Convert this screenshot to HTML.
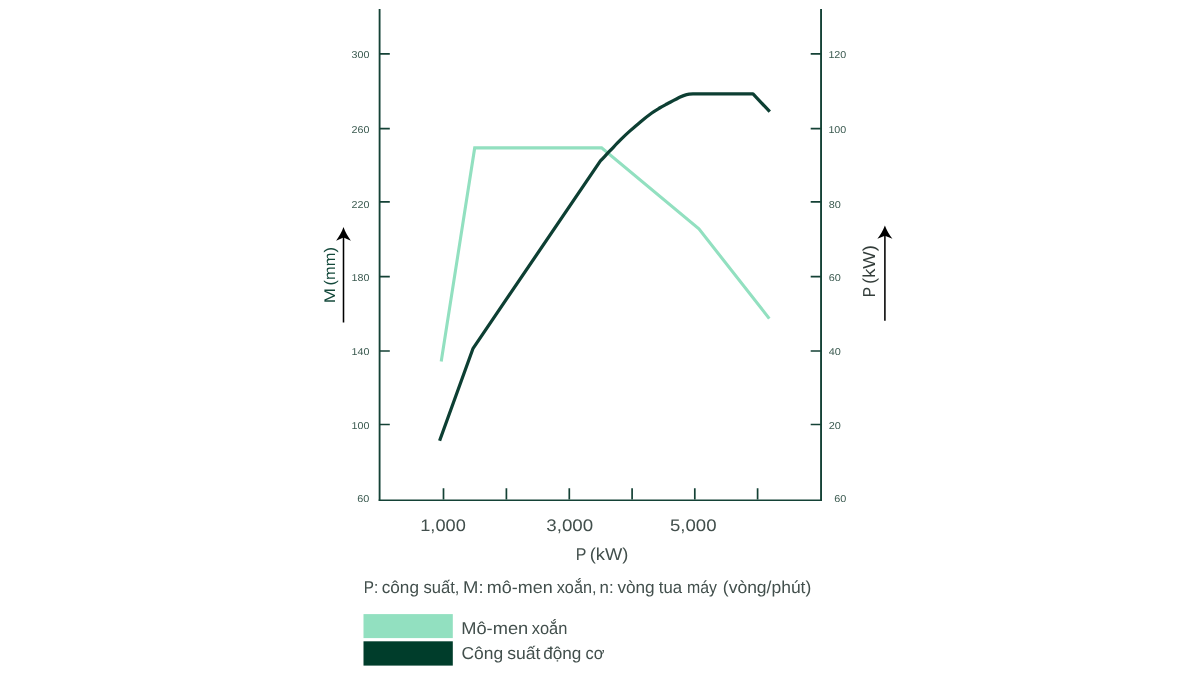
<!DOCTYPE html>
<html lang="vi">
<head>
<meta charset="utf-8">
<title>Mô-men xoắn / Công suất động cơ</title>
<style>
  html, body { margin: 0; padding: 0; background: #ffffff; }
  body { width: 1200px; height: 675px; overflow: hidden; position: relative; }
  svg { position: absolute; left: 0; top: 0; display: block; }
  text { font-family: "Liberation Sans", sans-serif; text-rendering: geometricPrecision; }
  .tick { font-size: 10px; fill: #3b5a50; }
  .xl { font-size: 16.7px; fill: #424f4c; }
  .cap { font-size: 17px; fill: #424f4c; }
</style>
</head>
<body>
<svg width="1200" height="675" viewBox="0 0 1200 675">
  <rect x="0" y="0" width="1200" height="675" fill="#ffffff"/>

  <!-- axes -->
  <g stroke="#144236" fill="none" stroke-linecap="butt">
    <path d="M379.6 9 V500.85" stroke-width="1.85"/>
    <path d="M821.05 9 V500.85" stroke-width="1.9"/>
    <path d="M378.68 500.15 H822" stroke-width="1.45"/>
  </g>
  <!-- ticks -->
  <g stroke="#144236" stroke-width="1.7" fill="none">
    <path d="M379.6 53.9 H389.8 M379.6 128.7 H389.8 M379.6 201.9 H389.8 M379.6 276.7 H389.8 M379.6 351.0 H389.8 M379.6 424.5 H389.8"/>
    <path d="M821.05 53.9 H810.7 M821.05 128.7 H810.7 M821.05 201.9 H810.7 M821.05 276.7 H810.7 M821.05 351.0 H810.7 M821.05 424.5 H810.7"/>
    <path d="M443.5 499.5 V488.2 M506.4 499.5 V488.2 M569.3 499.5 V488.2 M632.1 499.5 V488.2 M694.8 499.5 V488.2 M757.6 499.5 V488.2"/>
  </g>

  <!-- left tick labels -->
  <g class="tick" text-anchor="end">
    <text x="369.4" y="58.0" textLength="17.9" lengthAdjust="spacingAndGlyphs">300</text>
    <text x="369.4" y="132.7" textLength="17.9" lengthAdjust="spacingAndGlyphs">260</text>
    <text x="369.4" y="207.7" textLength="17.9" lengthAdjust="spacingAndGlyphs">220</text>
    <text x="369.4" y="280.9" textLength="17.9" lengthAdjust="spacingAndGlyphs">180</text>
    <text x="369.4" y="354.7" textLength="17.9" lengthAdjust="spacingAndGlyphs">140</text>
    <text x="369.4" y="429.3" textLength="17.9" lengthAdjust="spacingAndGlyphs">100</text>
    <text x="369.4" y="502.0" textLength="12.1" lengthAdjust="spacingAndGlyphs">60</text>
  </g>
  <!-- right tick labels -->
  <g class="tick" text-anchor="start">
    <text x="828.4" y="58.0" textLength="17.9" lengthAdjust="spacingAndGlyphs">120</text>
    <text x="828.4" y="132.7" textLength="17.9" lengthAdjust="spacingAndGlyphs">100</text>
    <text x="828.8" y="207.7" textLength="12.1" lengthAdjust="spacingAndGlyphs">80</text>
    <text x="828.8" y="280.9" textLength="12.1" lengthAdjust="spacingAndGlyphs">60</text>
    <text x="828.8" y="354.7" textLength="12.1" lengthAdjust="spacingAndGlyphs">40</text>
    <text x="828.8" y="429.3" textLength="12.1" lengthAdjust="spacingAndGlyphs">20</text>
    <text x="834.2" y="502.0" textLength="12.1" lengthAdjust="spacingAndGlyphs">60</text>
  </g>

  <!-- curves -->
  <path d="M441.2 361.6 L474.7 147.9 L601.6 147.9 L698.9 228.8 L769.3 318.6" fill="none" stroke="#92e0c0" stroke-width="3.1" stroke-linejoin="miter"/>
  <path d="M439.6 440.8 L473.1 348.3 L600.4 160.9 C603.5 157.7 606.3 154.6 609.6 151.2 C612.9 147.8 616.8 143.6 620.2 140.2 C623.6 136.8 626.6 133.9 630.0 130.9 C633.4 127.9 636.8 124.9 640.4 121.9 C644.0 118.9 648.6 115.3 651.8 113.0 C655.0 110.7 657.1 109.5 659.6 108.0 C662.1 106.5 663.5 105.8 666.9 104.0 C670.3 102.2 676.9 98.6 680.2 97.0 C683.5 95.4 684.5 95.1 686.6 94.6 C688.7 94.1 690.9 94.0 693.0 93.9 L753 93.9 L769.8 111.7" fill="none" stroke="#0d3f33" stroke-width="3.25" stroke-linejoin="round"/>

  <!-- left axis title + arrow -->
  <text transform="translate(335.2 302) rotate(-90)" font-size="15.4" fill="#14493b"><tspan x="-1.38" textLength="15.21" lengthAdjust="spacingAndGlyphs">M</tspan> <tspan x="16.63" textLength="38.34" lengthAdjust="spacingAndGlyphs">(mm)</tspan></text>
  <path d="M343.5 322.5 V236" stroke="#000" stroke-width="1.55" fill="none"/>
  <path d="M343.5 227.1 C345.2 232 348 237 350.9 240.7 L343.5 237.5 L336.1 240.7 C339 237 341.8 232 343.5 227.1 Z" fill="#000"/>

  <!-- right axis title + arrow -->
  <text transform="translate(875 296.1) rotate(-90)" font-size="17.3" fill="#333d3a"><tspan x="-1.2" textLength="10.1" lengthAdjust="spacingAndGlyphs">P</tspan> <tspan x="12.1" textLength="38.86" lengthAdjust="spacingAndGlyphs">(kW)</tspan></text>
  <path d="M884.9 320.8 V234" stroke="#000" stroke-width="1.55" fill="none"/>
  <path d="M884.9 225.4 C886.6 230 889.4 235 892.4 238.7 L884.9 235.8 L877.4 238.7 C880.4 235 883.2 230 884.9 225.4 Z" fill="#000"/>

  <!-- x labels -->
  <g class="xl" text-anchor="start">
    <text x="420.24" y="531.4" textLength="45.56" lengthAdjust="spacingAndGlyphs">1,000</text>
    <text x="546.3" y="531.4" textLength="46.92" lengthAdjust="spacingAndGlyphs">3,000</text>
    <text x="669.96" y="531.4" textLength="46.55" lengthAdjust="spacingAndGlyphs">5,000</text>
    <text y="560.2" font-size="17.1"><tspan x="575.65" textLength="10.38" lengthAdjust="spacingAndGlyphs">P</tspan> <tspan x="589.73" textLength="38.73" lengthAdjust="spacingAndGlyphs">(kW)</tspan></text>
  </g>

  <!-- caption -->
  <text class="cap" y="593.3" style="font-size:17.2px"><tspan x="363.78" textLength="14.47" lengthAdjust="spacingAndGlyphs">P:</tspan> <tspan x="381.75" textLength="37.2" lengthAdjust="spacingAndGlyphs">công</tspan> <tspan x="423.52" textLength="35.94" lengthAdjust="spacingAndGlyphs">suất,</tspan> <tspan x="463.02" textLength="20.49" lengthAdjust="spacingAndGlyphs">M:</tspan> <tspan x="486.82" textLength="65.9" lengthAdjust="spacingAndGlyphs">mô-men</tspan> <tspan x="556.76" textLength="39.7" lengthAdjust="spacingAndGlyphs">xoắn,</tspan> <tspan x="599.5" textLength="14.07" lengthAdjust="spacingAndGlyphs">n:</tspan> <tspan x="617.38" textLength="37.28" lengthAdjust="spacingAndGlyphs">vòng</tspan> <tspan x="658.76" textLength="23.27" lengthAdjust="spacingAndGlyphs">tua</tspan> <tspan x="686.96" textLength="29.94" lengthAdjust="spacingAndGlyphs">máy</tspan> <tspan x="722.86" textLength="88.44" lengthAdjust="spacingAndGlyphs">(vòng/phút)</tspan></text>

  <!-- legend -->
  <rect x="363.5" y="614.1" width="89.3" height="24" fill="#92e0c0"/>
  <rect x="363.5" y="641.3" width="89.3" height="24.3" fill="#003d2b"/>
  <text class="cap" y="633.5" style="font-size:17.2px"><tspan x="461.24" textLength="67.01" lengthAdjust="spacingAndGlyphs">Mô-men</tspan> <tspan x="531.76" textLength="35.64" lengthAdjust="spacingAndGlyphs">xoắn</tspan></text>
  <text class="cap" y="659.2" style="font-size:17.2px"><tspan x="461.41" textLength="41.7" lengthAdjust="spacingAndGlyphs">Công</tspan> <tspan x="507.19" textLength="33.24" lengthAdjust="spacingAndGlyphs">suất</tspan> <tspan x="543.25" textLength="38.17" lengthAdjust="spacingAndGlyphs">động</tspan> <tspan x="585.59" textLength="18.89" lengthAdjust="spacingAndGlyphs">cơ</tspan></text>
</svg>
</body>
</html>
